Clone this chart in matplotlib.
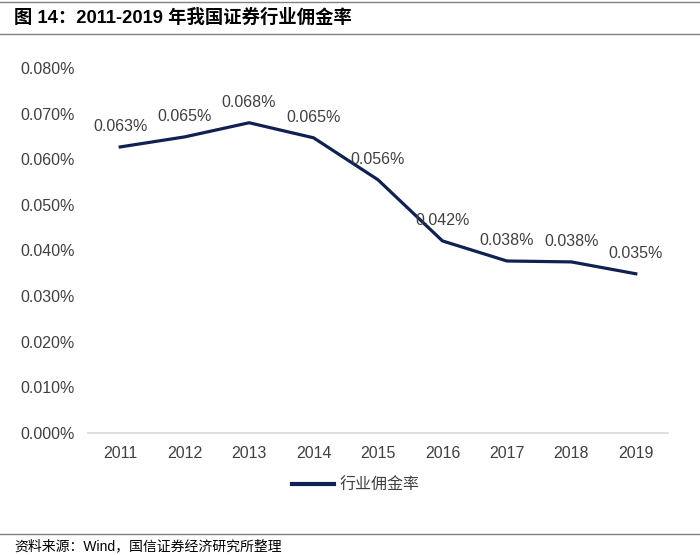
import matplotlib
matplotlib.use("Agg")
import matplotlib.pyplot as plt
from matplotlib.ticker import FuncFormatter, MultipleLocator
from matplotlib.lines import Line2D

plt.rcParams['font.family'] = ['Liberation Sans', 'Noto Sans CJK SC', 'DejaVu Sans']

years = ["2011", "2012", "2013", "2014", "2015", "2016", "2017", "2018", "2019"]
rates = [0.0627, 0.0649, 0.0680, 0.0647, 0.0555, 0.0421, 0.0377, 0.0375, 0.0349]
labels = ["0.063%", "0.065%", "0.068%", "0.065%", "0.056%", "0.042%", "0.038%", "0.038%", "0.035%"]
series_name = "行业佣金率"
title = "图 14：2011-2019 年我国证券行业佣金率"
source = "资料来源：Wind，国信证券经济研究所整理"

navy = "#0f2150"
grey_text = "#404040"

fig = plt.figure(figsize=(7, 5.55), dpi=100)
ax = fig.add_axes([88/700, 1-433/555, 580/700, (433-68)/555])

x = list(range(len(years)))
ax.plot(x, rates, color=navy, lw=2.3, solid_joinstyle='round')
ax.set_xlim(-0.5, len(years)-0.5)
ax.set_ylim(0, 0.08)
ax.yaxis.set_major_locator(MultipleLocator(0.01))
ax.yaxis.set_major_formatter(FuncFormatter(lambda v, p: f"{v:.3f}%"))
ax.set_xticks(x)
ax.set_xticklabels(years)
ax.tick_params(axis='both', length=0, labelsize=11.5, colors=grey_text, pad=9)
ax.tick_params(axis='y', pad=9.5)
for s in ['top', 'right', 'left']:
    ax.spines[s].set_visible(False)
ax.spines['bottom'].set_color('#d9d9d9')
ax.spines['bottom'].set_linewidth(1.2)

for xi, yi, lb in zip(x, rates, labels):
    ax.annotate(lb, (xi, yi), xytext=(0, 9), textcoords='offset points',
                ha='center', va='bottom', fontsize=11.5, color=grey_text)

# legend
handle = Line2D([0], [0], color=navy, lw=3)
leg = fig.legend([handle], [series_name], loc='center', bbox_to_anchor=(356/700, 1-485/555),
                 frameon=False, handlelength=2.6, handletextpad=0.4,
                 prop={'family': ['Noto Sans CJK SC'], 'size': 11.5})
for t in leg.get_texts():
    t.set_color(grey_text)

# title and rules
fig.text(14/700, 1-18/555, title, ha='left', va='center', fontsize=13.2, fontweight='bold',
         color='black', family=['Liberation Sans', 'Noto Sans CJK SC'])
fig.add_artist(Line2D([0, 1], [1-2/555, 1-2/555], color='#808080', lw=1.0))
fig.add_artist(Line2D([0, 1], [1-34/555, 1-34/555], color='#808080', lw=1.0))
fig.add_artist(Line2D([0, 1], [1-534/555, 1-534/555], color='#808080', lw=1.0))
fig.text(14/700, 1-546/555, source, ha='left', va='center', fontsize=10,
         color='black', family=['Liberation Sans', 'Noto Sans CJK SC'])

fig.savefig("out.png", dpi=100)
